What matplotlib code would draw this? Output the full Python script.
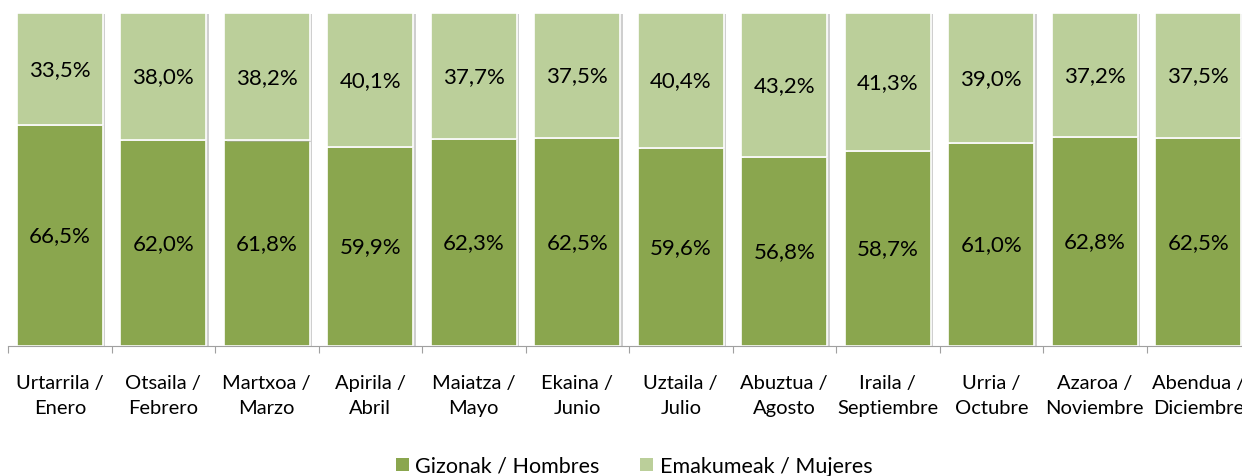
import matplotlib.pyplot as plt
import matplotlib.patheffects as pe
from matplotlib.patches import Patch
import numpy as np

plt.rcParams['font.family'] = ['Lato', 'DejaVu Sans']

meses = ['Urtarrila /\nEnero', 'Otsaila /\nFebrero', 'Martxoa /\nMarzo', 'Apirila /\nAbril',
         'Maiatza /\nMayo', 'Ekaina /\nJunio', 'Uztaila /\nJulio', 'Abuztua /\nAgosto',
         'Iraila /\nSeptiembre', 'Urria /\nOctubre', 'Azaroa /\nNoviembre', 'Abendua /\nDiciembre']
gizonak = [66.5, 62.0, 61.8, 59.9, 62.3, 62.5, 59.6, 56.8, 58.7, 61.0, 62.8, 62.5]
emakumeak = [33.5, 38.0, 38.2, 40.1, 37.7, 37.5, 40.4, 43.2, 41.3, 39.0, 37.2, 37.5]

verde_osc = '#8aa64e'
verde_cla = '#bbcf9a'

fig = plt.figure(figsize=(12.42, 4.77), dpi=100)
ax = fig.add_axes([8 / 1242, 1 - 347 / 477, 1242 / 1242, (347 - 14) / 477])

x = np.arange(len(meses))
sombra = [pe.SimplePatchShadow(offset=(2, -1), shadow_rgbFace='#a8a8a8', alpha=0.55), pe.Normal()]
ax.bar(x, gizonak, width=0.83, color=verde_osc, edgecolor='white', linewidth=1.2,
       path_effects=sombra)
ax.bar(x, emakumeak, width=0.83, bottom=gizonak, color=verde_cla, edgecolor='white',
       linewidth=1.2, path_effects=sombra)

def fmt(v):
    return f'{v:.1f}%'.replace('.', ',')

for i in range(len(meses)):
    ax.text(x[i], gizonak[i] / 2, fmt(gizonak[i]), ha='center', va='center', fontsize=16)
    ax.text(x[i], gizonak[i] + emakumeak[i] / 2, fmt(emakumeak[i]), ha='center', va='center', fontsize=16)

ax.set_xlim(-0.5, len(meses) - 0.5)
ax.set_ylim(0, 100)
ax.set_yticks([])
for s in ['top', 'right', 'left']:
    ax.spines[s].set_visible(False)
ax.spines['bottom'].set_color('#a0a0a0')
ax.set_xticks(np.arange(-0.5, len(meses), 1))
ax.set_xticklabels([])
ax.tick_params(axis='x', length=5, color='#a0a0a0')
for i, m in enumerate(meses):
    ax.text(x[i], -8.3, m, ha='center', va='top', fontsize=14.5, linespacing=1.6)

# legend handles without the bar shadow
handles = [Patch(facecolor=verde_osc, label='Gizonak / Hombres'),
           Patch(facecolor=verde_cla, label='Emakumeak / Mujeres')]
fig.legend(handles=handles, loc='center', bbox_to_anchor=(634 / 1242, 1 - 467 / 477), ncol=2,
           frameon=False, fontsize=15.5, handlelength=0.6, handleheight=0.6,
           handletextpad=0.3, columnspacing=1.9)

fig.savefig('out.png', dpi=100)
